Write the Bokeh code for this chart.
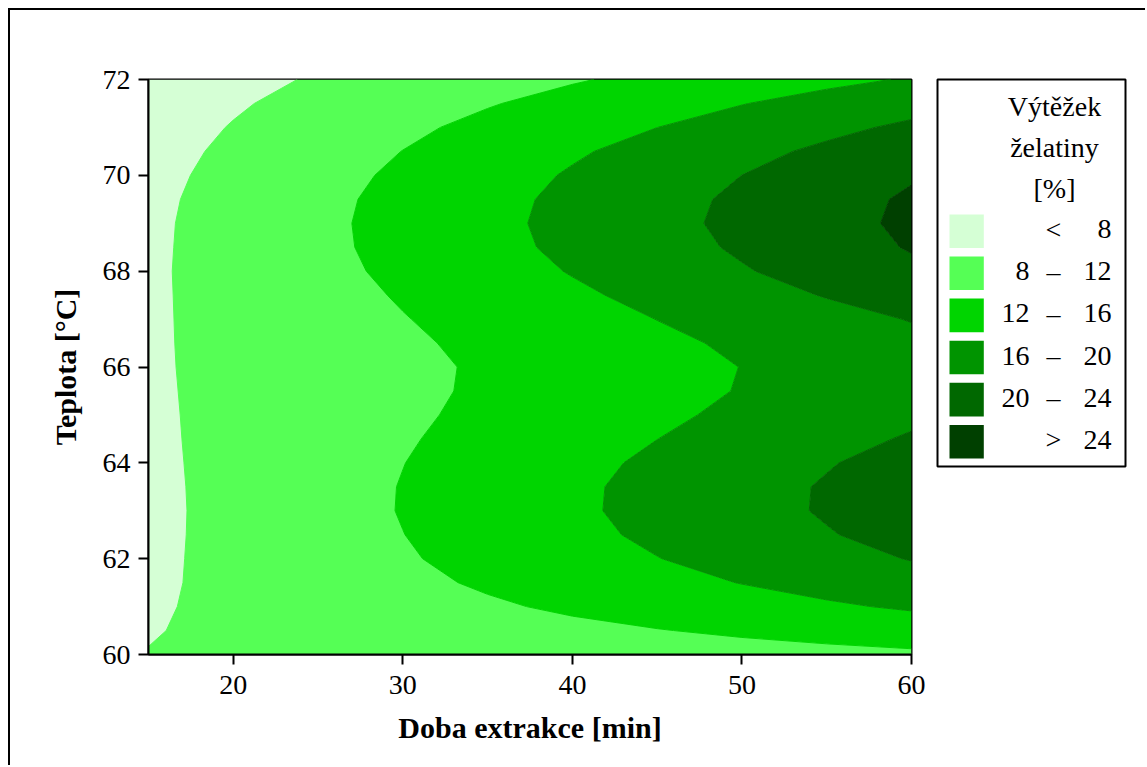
import numpy as np
from bokeh.plotting import figure
from bokeh.models import Range1d, FixedTicker
from bokeh.layouts import row
from bokeh.embed import file_html
from bokeh.resources import INLINE
from bokeh.core.properties import value

# ---------------- data ----------------
# Doba extrakce [min] - grid columns
time_min = [15, 20, 25, 30, 35, 40, 45, 50, 55, 60]
# Teplota [°C] - grid rows
temp_c = [60.0, 60.5, 61.0, 61.5, 62.0, 62.5, 63.0, 63.5, 64.0, 64.5, 65.0, 65.5,
          66.0, 66.5, 67.0, 67.5, 68.0, 68.5, 69.0, 69.5, 70.0, 70.5, 71.0, 71.5, 72.0]

# Výtěžek želatiny [%] along temperature, one list per extraction time
yield_t15 = [8.07, 7.86, 7.67, 7.50, 7.39, 7.31, 7.26, 7.29, 7.36, 7.44, 7.51, 7.57, 7.61,
             7.60, 7.57, 7.54, 7.51, 7.44, 7.39, 7.28, 7.09, 6.85, 6.57, 6.29, 5.99]
yield_t20 = [8.44, 8.53, 8.64, 8.73, 8.82, 8.86, 8.89, 8.90, 8.89, 8.86, 8.82, 8.80, 8.81,
             8.89, 9.00, 9.12, 9.26, 9.32, 9.31, 9.19, 8.93, 8.58, 8.15, 7.66, 7.14]
yield_t25 = [8.81, 9.20, 9.61, 9.97, 10.24, 10.41, 10.52, 10.51, 10.42, 10.27, 10.13, 10.03, 10.02,
             10.19, 10.43, 10.71, 11.01, 11.19, 11.23, 11.10, 10.77, 10.31, 9.73, 9.03, 8.28]
yield_t30 = [9.18, 9.86, 10.58, 11.20, 11.67, 11.96, 12.15, 12.12, 11.95, 11.69, 11.43, 11.26, 11.23,
             11.48, 11.86, 12.29, 12.75, 13.06, 13.16, 13.01, 12.61, 12.04, 11.31, 10.40, 9.42]
yield_t35 = [9.55, 10.53, 11.55, 12.43, 13.09, 13.53, 13.78, 13.75, 13.50, 13.12, 12.75, 12.49, 12.43,
             12.76, 13.26, 13.84, 14.47, 14.93, 15.09, 14.92, 14.48, 13.80, 12.87, 11.77, 10.57]
yield_t40 = [9.93, 11.20, 12.53, 13.65, 14.50, 15.09, 15.41, 15.37, 15.05, 14.55, 14.06, 13.71, 13.64,
             14.02, 14.65, 15.39, 16.19, 16.78, 17.01, 16.84, 16.34, 15.56, 14.43, 13.14, 11.71]
yield_t45 = [10.30, 11.87, 13.52, 14.87, 15.92, 16.66, 17.05, 17.01, 16.62, 15.98, 15.37, 14.94, 14.84,
             15.29, 16.04, 16.98, 17.96, 18.62, 18.94, 18.74, 18.17, 17.28, 15.99, 14.52, 12.85]
yield_t50 = [10.67, 12.54, 14.50, 16.10, 17.33, 18.21, 18.69, 18.66, 18.19, 17.43, 16.69, 16.16, 16.05,
             16.55, 17.41, 18.59, 19.72, 20.47, 20.86, 20.66, 20.01, 18.98, 17.55, 15.89, 14.00]
yield_t55 = [11.04, 13.20, 15.49, 17.32, 18.75, 19.77, 20.34, 20.30, 19.77, 18.88, 18.00, 17.38, 17.25,
             17.82, 18.79, 20.19, 21.49, 22.36, 22.78, 22.58, 21.84, 20.68, 19.11, 17.26, 15.14]
yield_t60 = [11.41, 13.87, 16.47, 18.54, 20.16, 21.33, 21.99, 21.94, 21.35, 20.33, 19.31, 18.61, 18.46,
             19.08, 20.16, 21.80, 23.25, 24.26, 24.70, 24.50, 23.67, 22.38, 20.67, 18.64, 16.28]

yield_levels = [8, 12, 16, 20, 24]
band_colors = ["#D5FFD5", "#55FF55", "#00D500", "#009400", "#006800", "#004000"]

time_ticks = [20, 30, 40, 50, 60]
temp_ticks = [60, 62, 64, 66, 68, 70, 72]

x_label = "Doba extrakce [min]"
y_label = "Teplota [°C]"
legend_title = ["Výtěžek", "želatiny", "[%]"]

FONT = "Liberation Serif"

# ---------------- main contour plot ----------------
z = np.column_stack([yield_t15, yield_t20, yield_t25, yield_t30, yield_t35,
                     yield_t40, yield_t45, yield_t50, yield_t55, yield_t60])

p = figure(frame_width=763, frame_height=575,
           x_range=Range1d(min(time_min), max(time_min)),
           y_range=Range1d(min(temp_c), max(temp_c)),
           toolbar_location=None, output_backend="svg",
           min_border_left=138, min_border_right=19,
           min_border_top=69, min_border_bottom=111,
           background_fill_color="white", border_fill_color="white")

all_levels = [0] + yield_levels + [30]
line_cols = [band_colors[0]] + band_colors[1:] + [band_colors[-1]]
p.contour(np.array(time_min, dtype=float), np.array(temp_c, dtype=float), z,
          levels=all_levels, fill_color=band_colors, fill_alpha=1.0,
          line_color=line_cols, line_width=1)

p.grid.visible = False
p.outline_line_color = "black"
p.outline_line_width = 2
p.outline_line_alpha = 1.0

p.xaxis.ticker = FixedTicker(ticks=time_ticks)
p.yaxis.ticker = FixedTicker(ticks=temp_ticks)
p.xaxis.axis_label = x_label
p.yaxis.axis_label = y_label
for ax in (p.xaxis, p.yaxis):
    ax.axis_line_width = 2
    ax.axis_line_color = "black"
    ax.major_tick_line_width = 2
    ax.major_tick_line_color = "black"
    ax.major_tick_in = 0
    ax.major_tick_out = 10
    ax.minor_tick_line_color = None
    ax.major_label_text_font = FONT
    ax.major_label_text_font_size = "28px"
    ax.major_label_text_color = "black"
    ax.axis_label_text_font = FONT
    ax.axis_label_text_font_size = "30px"
    ax.axis_label_text_font_style = "bold"
    ax.axis_label_text_color = "black"
p.xaxis.major_label_standoff = 11
p.yaxis.major_label_standoff = 8
p.xaxis.axis_label_standoff = 14
p.yaxis.axis_label_standoff = 18

# ---------------- legend panel ----------------
LW, LH = 215, 755
leg = figure(width=LW, height=LH, x_range=Range1d(0, LW), y_range=Range1d(LH, 0),
             toolbar_location=None, output_backend="svg", min_border=0,
             x_axis_location=None, y_axis_location=None,
             background_fill_color="white", border_fill_color="white")
leg.frame_align = False
leg.outline_line_color = None
leg.grid.visible = False

# legend frame
leg.quad(left=[7], right=[195], top=[69], bottom=[456], fill_color=None,
         line_color="black", line_width=2)

# title
leg.text(x=[124] * len(legend_title), y=[96 + 41 * i for i in range(len(legend_title))],
         text=legend_title, text_font=value(FONT), text_font_size="28px",
         text_align="center", text_baseline="alphabetic", text_color="black")

n = len(band_colors)
cy = [220.7 + 42.1 * i for i in range(n)]
leg.quad(left=[19] * n, right=[53.3] * n, top=[c - 16.8 for c in cy],
         bottom=[c + 16.8 for c in cy], fill_color=band_colors, line_color=None)

low_txt, mid_txt, high_txt = [], [], []
for i in range(n):
    if i == 0:
        low_txt.append(""); mid_txt.append("<"); high_txt.append(str(yield_levels[0]))
    elif i == n - 1:
        low_txt.append(""); mid_txt.append(">"); high_txt.append(str(yield_levels[-1]))
    else:
        low_txt.append(str(yield_levels[i - 1])); mid_txt.append("\u2013")
        high_txt.append(str(yield_levels[i]))

base_y = [c - 2 for c in cy]
leg.text(x=[99] * n, y=base_y, text=low_txt, text_font=value(FONT), text_font_size="28px",
         text_align="right", text_baseline="alphabetic", text_color="black")
leg.text(x=[123] * n, y=base_y, text=mid_txt, text_font=value(FONT), text_font_size="28px",
         text_align="center", text_baseline="alphabetic", text_color="black")
leg.text(x=[181] * n, y=base_y, text=high_txt, text_font=value(FONT), text_font_size="28px",
         text_align="right", text_baseline="alphabetic", text_color="black")

layout = row(p, leg, margin=(8, 0, 0, 8),
             styles={"border-left": "2px solid black", "border-top": "2px solid black"})

open("out.html", "w").write(file_html(layout, INLINE))
